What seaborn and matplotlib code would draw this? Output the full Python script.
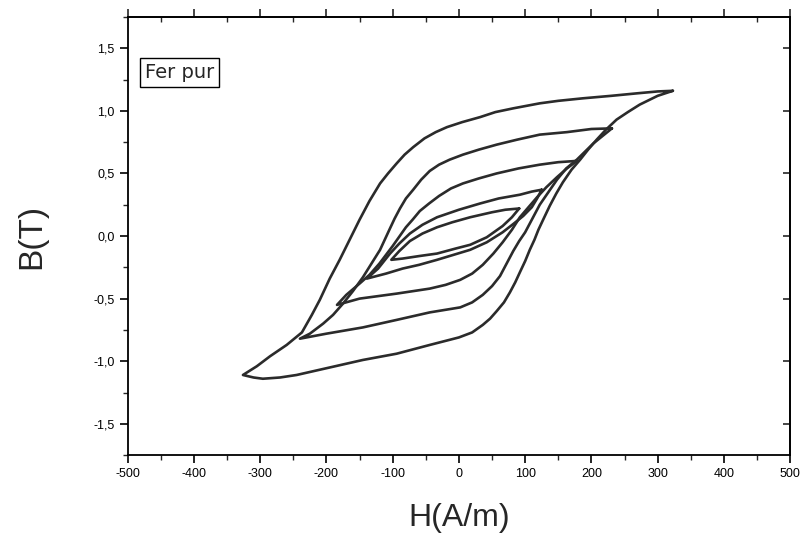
import matplotlib
matplotlib.use("Agg")
import matplotlib.pyplot as plt
from matplotlib.ticker import MultipleLocator, FuncFormatter
import pandas as pd
import seaborn as sns

# Hysteresis loops of pure iron.
# Each loop: right tip -> upper (descending) branch -> left tip -> lower (ascending) branch.
loop1_h = [323, 300, 269, 230, 187, 150, 122, 82, 55, 32, 5, -18, -35, -52, -69, -82, -94,
           -107, -119, -135, -150, -165, -180, -195, -210, -222, -237, -260, -285, -305, -326,
           -310, -296, -270, -245, -195, -145, -94, -44, 0, 20, 36, 47, 57, 68, 77, 85, 92,
           100, 107, 114, 120, 128, 137, 147, 157, 170, 183, 195, 208, 222, 238, 255, 273,
           300, 323]
loop1_b = [1.16, 1.155, 1.14, 1.12, 1.10, 1.08, 1.06, 1.02, 0.99, 0.95, 0.91, 0.87, 0.83, 0.78,
           0.71, 0.65, 0.58, 0.50, 0.42, 0.28, 0.13, -0.03, -0.19, -0.34, -0.51, -0.63, -0.77,
           -0.87, -0.96, -1.04, -1.11,
           -1.13, -1.14, -1.13, -1.11, -1.05, -0.99, -0.94, -0.87, -0.81, -0.77, -0.71, -0.66,
           -0.60, -0.53, -0.45, -0.37, -0.29, -0.20, -0.11, -0.03, 0.05, 0.14, 0.24, 0.34,
           0.43, 0.53, 0.61, 0.69, 0.77, 0.85, 0.93, 0.99, 1.05, 1.12, 1.16]

loop2_h = [231, 200, 163, 122, 88, 57, 30, 6, -14, -30, -44, -57, -69, -80, -89, -97, -105,
           -119, -132, -145, -160, -175, -190, -205, -225, -240,
           -200, -145, -94, -44, 2, 20, 36, 50, 62, 72, 82, 91, 100, 111, 122, 135, 148, 162,
           178, 203, 231]
loop2_b = [0.86, 0.855, 0.83, 0.81, 0.77, 0.73, 0.69, 0.65, 0.61, 0.57, 0.52, 0.45, 0.37,
           0.30, 0.22, 0.14, 0.05, -0.11, -0.22, -0.33, -0.44, -0.54, -0.63, -0.70, -0.78, -0.82,
           -0.78, -0.73, -0.67, -0.61, -0.57, -0.53, -0.47, -0.40, -0.32, -0.22, -0.12, -0.04,
           0.03, 0.14, 0.25, 0.35, 0.45, 0.54, 0.61, 0.74, 0.86]

loop3_h = [178, 150, 122, 90, 57, 30, 6, -12, -30, -45, -59, -70, -80, -100, -120, -135,
           -150, -170, -184,
           -150, -94, -44, -20, 2, 20, 36, 52, 66, 80, 92, 105, 118, 132, 148, 163, 178]
loop3_b = [0.60, 0.59, 0.57, 0.54, 0.50, 0.46, 0.42, 0.38, 0.32, 0.26, 0.20, 0.13, 0.07,
           -0.08, -0.22, -0.31, -0.38, -0.47, -0.55,
           -0.50, -0.46, -0.42, -0.39, -0.35, -0.30, -0.23, -0.14, -0.05, 0.05, 0.15, 0.23,
           0.31, 0.39, 0.47, 0.54, 0.60]

loop4_h = [125, 110, 92, 60, 32, 0, -33, -55, -74, -90, -104, -122, -139,
           -110, -85, -60, -33, -8, 17, 42, 66, 83, 97, 110, 118, 125]
loop4_b = [0.37, 0.355, 0.33, 0.30, 0.26, 0.21, 0.15, 0.09, 0.02, -0.06, -0.14, -0.26, -0.34,
           -0.30, -0.26, -0.23, -0.19, -0.15, -0.11, -0.05, 0.03, 0.10, 0.16, 0.23, 0.30, 0.37]

loop5_h = [91, 70, 50, 17, -10, -33, -55, -74, -90, -102,
           -85, -60, -33, -5, 17, 42, 66, 80, 91]
loop5_b = [0.22, 0.21, 0.19, 0.15, 0.11, 0.07, 0.02, -0.04, -0.12, -0.19,
           -0.18, -0.16, -0.14, -0.10, -0.07, -0.01, 0.08, 0.15, 0.22]

x_ticks = [-500, -400, -300, -200, -100, 0, 100, 200, 300, 400, 500]
y_ticks = [-1.5, -1.0, -0.5, 0.0, 0.5, 1.0, 1.5]

loops = [(loop1_h, loop1_b), (loop2_h, loop2_b), (loop3_h, loop3_b),
         (loop4_h, loop4_b), (loop5_h, loop5_b)]
frames = []
for i, (h, b) in enumerate(loops):
    frames.append(pd.DataFrame({"H": h, "B": b, "loop": i, "step": range(len(h))}))
df = pd.concat(frames, ignore_index=True)

sns.set_style("ticks")
plt.rcParams['font.family'] = ['Liberation Sans', 'DejaVu Sans']

fig = plt.figure(figsize=(8.03, 5.47), dpi=100)
ax = fig.add_axes([0.159, 0.168, 0.825, 0.801])

sns.lineplot(data=df, x="H", y="B", units="loop", estimator=None, sort=False,
             color="#2b2b2b", linewidth=1.9, ax=ax)

ax.set_xlim(-500, 500)
ax.set_ylim(-1.75, 1.75)
ax.set_xticks(x_ticks)
ax.set_yticks(y_ticks)
ax.xaxis.set_minor_locator(MultipleLocator(50))
ax.yaxis.set_minor_locator(MultipleLocator(0.25))
ax.xaxis.set_major_formatter(FuncFormatter(lambda v, p: f"{int(round(v))}"))
ax.yaxis.set_major_formatter(FuncFormatter(lambda v, p: f"{v:.1f}".replace(".", ",")))
ax.tick_params(which="major", direction="out", length=6, width=1.2, labelsize=9, colors="black")
ax.tick_params(which="minor", direction="out", length=3.5, width=1.0)

for s in ax.spines.values():
    s.set_linewidth(1.3)
    s.set_color("black")

# top axis: major ticks outward, minor ticks inward
top = ax.secondary_xaxis("top")
top.set_xticks(x_ticks)
top.xaxis.set_minor_locator(MultipleLocator(50))
top.tick_params(which="major", direction="out", length=6, width=1.2, labeltop=False)
top.tick_params(which="minor", direction="in", length=3.5, width=1.0)
top.spines["top"].set_linewidth(1.3)

# right axis: major ticks inward
right = ax.secondary_yaxis("right")
right.set_yticks(y_ticks)
right.tick_params(which="major", direction="in", length=5, width=1.2, labelright=False)
right.tick_params(which="minor", length=0)
right.spines["right"].set_linewidth(1.3)

ax.set_xlabel("H(A/m)", fontsize=23, labelpad=16)
ax.set_ylabel("B(T)", fontsize=24, labelpad=33)

ax.text(0.026, 0.874, "Fer pur", transform=ax.transAxes, fontsize=14, va="center", ha="left",
        family=["DejaVu Sans"],
        bbox=dict(boxstyle="square,pad=0.25", facecolor="white", edgecolor="black", linewidth=1.0))

fig.savefig("out.png", dpi=100)
